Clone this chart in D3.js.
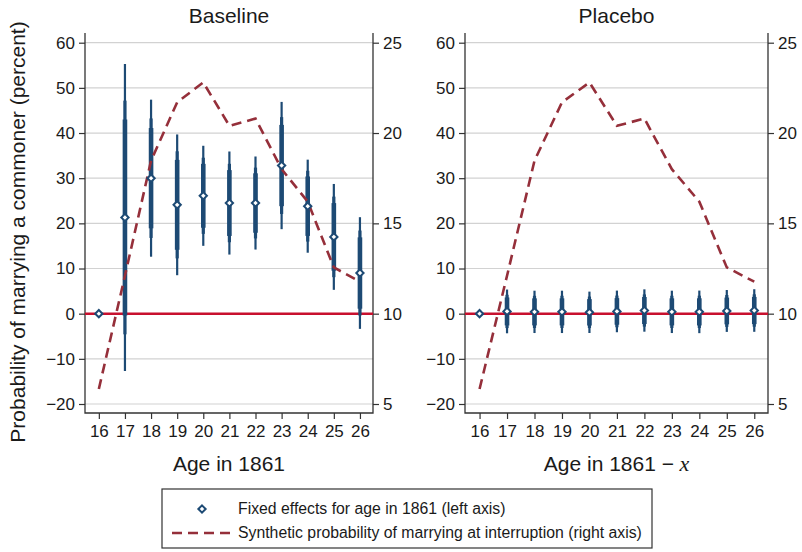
<!DOCTYPE html>
<html>
<head>
<meta charset="utf-8">
<script src="https://cdn.jsdelivr.net/npm/d3@7"></script>
<style>
  body { margin: 0; background: #fff; }
  svg text { font-family: "Liberation Sans", Arial, sans-serif; fill: #1a1a1a; }
</style>
</head>
<body>
<svg id="chart" width="802" height="552"></svg>
<script>
// data
const ages = [16, 17, 18, 19, 20, 21, 22, 23, 24, 25, 26];
const baselineEst = [0, 21.3, 30.0, 24.1, 26.1, 24.5, 24.5, 32.8, 23.8, 17.0, 9.0];
const baselineSE  = [null, 13.2, 6.75, 6.05, 4.3, 4.43, 4.0, 5.47, 4.0, 4.55, 4.8];
const placeboEst  = [0, 0.5, 0.4, 0.4, 0.3, 0.5, 0.7, 0.4, 0.4, 0.6, 0.7];
const placeboSE   = [null, 1.88, 1.82, 1.82, 1.78, 1.79, 1.82, 1.82, 1.83, 1.80, 1.83];
const synthProb   = [5.83, 12.1, 18.47, 21.7, 22.8, 20.4, 20.8, 18.0, 16.2, 12.56, 11.77];
const leftTicks  = [-20, -10, 0, 10, 20, 30, 40, 50, 60];
const rightTicks = [5, 10, 15, 20, 25];
// 99 / 95 / 90 percent intervals, drawn thin -> thick
const ciLevels = [
  {z: 2.576, w: 2.2},
  {z: 1.96,  w: 3.2},
  {z: 1.645, w: 4.6}
];

const navy = "#1d4a74";
const maroon = "#952f3a";
const zeroRed = "#c8102e";

const svg = d3.select("#chart");
const plotTop = 33, plotBottom = 413;

function drawPanel(opts) {
  const g = svg.append("g");
  const x = d3.scaleLinear().domain([15.47, 26.5]).range([opts.x0, opts.x1]);
  const yL = d3.scaleLinear().domain([-20, 60]).range([404, 42.7]);
  const yR = d3.scaleLinear().domain([5, 25]).range([404, 42.7]);

  // gridlines
  g.selectAll(".grid").data(leftTicks).enter().append("line")
    .attr("x1", opts.x0).attr("x2", opts.x1)
    .attr("y1", d => yL(d)).attr("y2", d => yL(d))
    .attr("stroke", "#d2d2d2").attr("stroke-width", 1.2);

  // axes
  const ax = g.append("g").attr("transform", `translate(${opts.x0},0)`)
    .call(d3.axisLeft(yL).tickValues(leftTicks).tickSize(6).tickPadding(4).tickSizeOuter(0));
  const ar = g.append("g").attr("transform", `translate(${opts.x1},0)`)
    .call(d3.axisRight(yR).tickValues(rightTicks).tickSize(6).tickPadding(4).tickSizeOuter(0));
  const ab = g.append("g").attr("transform", `translate(0,${plotBottom})`)
    .call(d3.axisBottom(x).tickValues(ages).tickFormat(d3.format("d")).tickSize(6).tickPadding(6).tickSizeOuter(0));
  [ax, ar, ab].forEach(a => {
    a.select(".domain").remove();
    a.selectAll("line").attr("stroke", "#333").attr("stroke-width", 1.2);
    a.selectAll("text").style("font-size", "17px").attr("fill", "#1a1a1a");
  });
  g.append("path")
    .attr("d", `M${opts.x0},${plotTop}V${plotBottom}H${opts.x1}V${plotTop}`)
    .attr("fill", "none").attr("stroke", "#333").attr("stroke-width", 1.3);

  // zero line
  g.append("line")
    .attr("x1", opts.x0).attr("x2", opts.x1)
    .attr("y1", yL(0)).attr("y2", yL(0))
    .attr("stroke", zeroRed).attr("stroke-width", 2.5);

  // confidence intervals
  const pts = ages.map((a, i) => ({age: a, est: opts.est[i], se: opts.se[i]}));
  ciLevels.forEach(lv => {
    g.selectAll(null).data(pts.filter(d => d.se != null)).enter().append("line")
      .attr("x1", d => x(d.age)).attr("x2", d => x(d.age))
      .attr("y1", d => yL(d.est + lv.z * d.se)).attr("y2", d => yL(d.est - lv.z * d.se))
      .attr("stroke", navy).attr("stroke-width", lv.w);
  });

  // synthetic probability (right axis)
  const line = d3.line().x((d, i) => x(ages[i])).y(d => yR(d));
  g.append("path").datum(synthProb)
    .attr("d", line)
    .attr("fill", "none").attr("stroke", maroon).attr("stroke-width", 2.6)
    .attr("stroke-dasharray", "10,6");

  // point estimates
  g.selectAll(null).data(pts).enter().append("path")
    .attr("d", d3.symbol().type(d3.symbolDiamond2).size(34))
    .attr("transform", d => `translate(${x(d.age)},${yL(d.est)})`)
    .attr("fill", "#fff").attr("stroke", navy).attr("stroke-width", 2);

  // title
  g.append("text").attr("x", (opts.x0 + opts.x1) / 2).attr("y", 23)
    .attr("text-anchor", "middle").style("font-size", "21px").text(opts.title);

  // x label
  const xl = g.append("text").attr("x", (opts.x0 + opts.x1) / 2).attr("y", 471)
    .attr("text-anchor", "middle").style("font-size", "21px");
  xl.append("tspan").text(opts.xlabel);
  if (opts.xItalic) {
    xl.append("tspan").text(" " + opts.xItalic)
      .style("font-family", "'Liberation Serif', 'Times New Roman', serif")
      .style("font-style", "italic").style("font-size", "22px");
  }
}

drawPanel({x0: 85, x1: 373, est: baselineEst, se: baselineSE, title: "Baseline", xlabel: "Age in 1861"});
drawPanel({x0: 465, x1: 768, est: placeboEst, se: placeboSE, title: "Placebo", xlabel: "Age in 1861 \u2212", xItalic: "x"});

// y axis title
svg.append("text")
  .attr("transform", "translate(25,232) rotate(-90)")
  .attr("text-anchor", "middle").style("font-size", "21px")
  .text("Probability of marrying a commoner (percent)");

// legend
const leg = svg.append("g");
leg.append("rect").attr("x", 162).attr("y", 489).attr("width", 490).attr("height", 59)
  .attr("fill", "#fff").attr("stroke", "#333").attr("stroke-width", 1.2);
leg.append("path")
  .attr("d", d3.symbol().type(d3.symbolDiamond2).size(34))
  .attr("transform", "translate(202,509)")
  .attr("fill", "#fff").attr("stroke", navy).attr("stroke-width", 2);
leg.append("line").attr("x1", 172).attr("x2", 230).attr("y1", 533).attr("y2", 533)
  .attr("stroke", maroon).attr("stroke-width", 2.6).attr("stroke-dasharray", "10,6");
leg.append("text").attr("x", 238).attr("y", 514).style("font-size", "15.8px")
  .text("Fixed effects for age in 1861 (left axis)");
leg.append("text").attr("x", 238).attr("y", 538).style("font-size", "15.8px")
  .text("Synthetic probability of marrying at interruption (right axis)");
</script>
</body>
</html>
